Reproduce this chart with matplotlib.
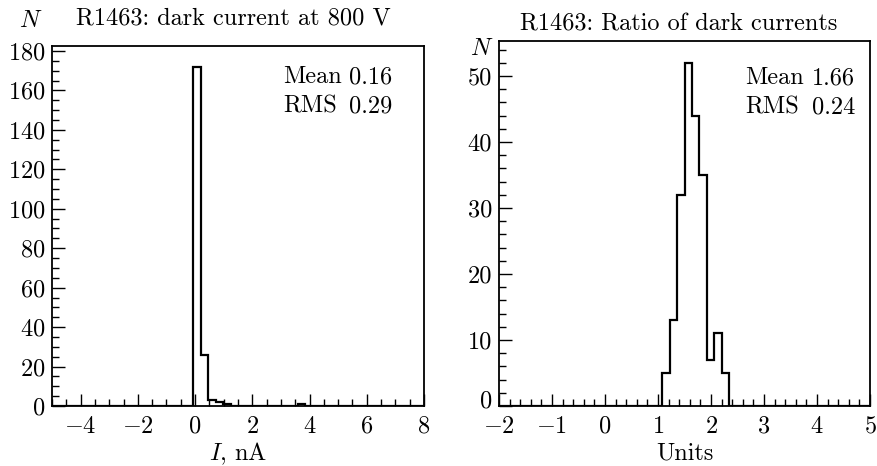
import numpy as np
import matplotlib
matplotlib.use("Agg")
import matplotlib.pyplot as plt
from matplotlib.ticker import MultipleLocator, FuncFormatter
from matplotlib.transforms import ScaledTranslation

plt.rcParams['font.family'] = 'serif'
plt.rcParams['font.serif'] = ['cmr10']
plt.rcParams['mathtext.fontset'] = 'cm'
plt.rcParams['axes.formatter.use_mathtext'] = True
plt.rcParams['axes.unicode_minus'] = True

# ---- data ----
left_range = (-5.0, 8.0)
left_nbins = 50
left_counts = [0, 0, 0, 0, 0, 0, 0, 0, 0, 0,
               0, 0, 0, 0, 0, 0, 0, 0, 0, 172,
               26, 3, 2, 1, 0, 0, 0, 0, 0, 0,
               0, 0, 0, 1, 0, 0, 0, 0, 0, 0,
               0, 0, 0, 0, 0, 0, 0, 0, 0, 0]
left_title = "R1463: dark current at 800 V"
left_xlabel = "$I$, nA"
left_stats = [("Mean", "0.16"), ("RMS", "0.29")]

right_range = (-2.0, 5.0)
right_nbins = 50
right_counts = [0, 0, 0, 0, 0, 0, 0, 0, 0, 0,
                0, 0, 0, 0, 0, 0, 0, 0, 0, 0,
                0, 0, 5, 13, 32, 52, 44, 35, 7, 11,
                5, 0, 0, 0, 0, 0, 0, 0, 0, 0,
                0, 0, 0, 0, 0, 0, 0, 0, 0, 0]
right_title = "R1463: Ratio of dark currents"
right_xlabel = "Units"
right_stats = [("Mean", "1.66"), ("RMS", "0.24")]

W, H = 877, 466
fig = plt.figure(figsize=(W / 100, H / 100), dpi=100)

def px_rect(x0, y0, x1, y1):
    return [x0 / W, 1 - y1 / H, (x1 - x0) / W, (y1 - y0) / H]

FS = 17.5
TFS = 17.5

def setup(ax, counts, rng, nbins, ylim, xmaj, xmin, ymaj, ymin, xpad):
    edges = np.linspace(rng[0], rng[1], nbins + 1)
    ax.stairs(counts, edges, color='black', lw=1.6, baseline=0)
    ax.set_xlim(*rng)
    ax.set_ylim(*ylim)
    ax.xaxis.set_major_locator(MultipleLocator(xmaj))
    ax.xaxis.set_minor_locator(MultipleLocator(xmin))
    ax.yaxis.set_major_locator(MultipleLocator(ymaj))
    ax.yaxis.set_minor_locator(MultipleLocator(ymin))
    ax.tick_params(which='both', direction='in', top=False, right=False,
                   labelsize=TFS, width=1.0)
    ax.tick_params(which='major', length=9)
    ax.tick_params(which='minor', length=5)
    ax.tick_params(axis='x', pad=xpad)
    ax.tick_params(axis='y', pad=5)
    for s in ax.spines.values():
        s.set_linewidth(1.3)

axL = fig.add_axes(px_rect(52, 46, 424, 406))
setup(axL, left_counts, left_range, left_nbins, (0, 182.5), 2, 0.5, 20, 5, 7)
axR = fig.add_axes(px_rect(499, 41, 870, 406))
setup(axR, right_counts, right_range, right_nbins, (0, 55.3), 1, 0.2, 10, 2, 7)

# right panel: the "0" y label sits slightly raised (as in the reference)
axR.yaxis.set_major_formatter(FuncFormatter(lambda v, p: "" if abs(v) < 1e-9 else f"{v:g}"))
fig.text(492 / W, 1 - 401 / H, "0", ha='right', va='center', fontsize=TFS)

# titles
fig.text(233 / W, 1 - 18 / H, left_title, ha='center', va='center', fontsize=FS)
fig.text(679 / W, 1 - 24 / H, right_title, ha='center', va='center', fontsize=FS)

# N labels
fig.text(31 / W, 1 - 21 / H, "$N$", ha='center', va='center', fontsize=FS)
fig.text(482 / W, 1 - 49 / H, "$N$", ha='center', va='center', fontsize=FS)

# x labels
fig.text(238 / W, 1 - 454 / H, left_xlabel, ha='center', va='center', fontsize=FS)
fig.text(685 / W, 1 - 453 / H, right_xlabel, ha='center', va='center', fontsize=FS)

# stats boxes
def stats(xl, xr, y0, items):
    for i, (k, v) in enumerate(items):
        y = y0 + i * 29
        fig.text(xl / W, 1 - y / H, k, ha='left', va='center', fontsize=FS)
        fig.text(xr / W, 1 - y / H, v, ha='right', va='center', fontsize=FS)

stats(283, 392, 77, left_stats)
stats(745, 855, 78, right_stats)

fig.savefig("out.png", dpi=100)
